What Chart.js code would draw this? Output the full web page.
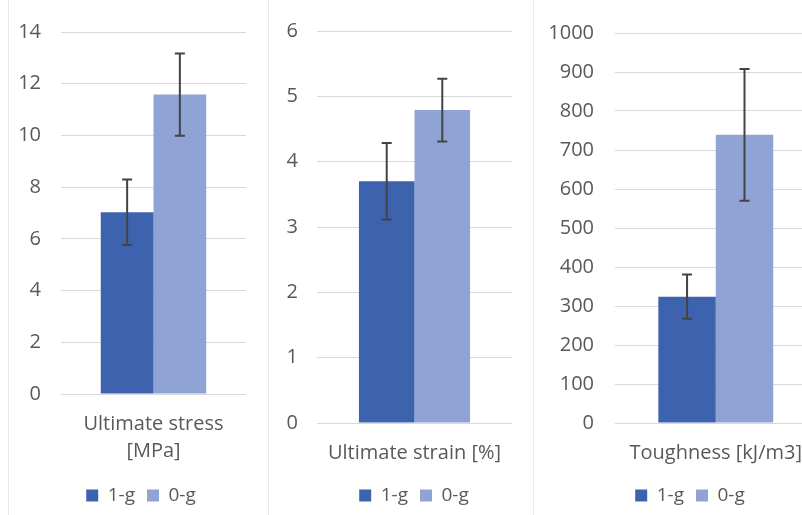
<!DOCTYPE html>
<html>
<head>
<meta charset="utf-8">
<script src="https://cdn.jsdelivr.net/npm/chart.js@4"></script>
<style>
  html, body { margin: 0; padding: 0; background: #ffffff; overflow: hidden; }
  #row { position: relative; width: 802px; height: 515px; overflow: hidden; background: #ffffff; }
  .panel { position: absolute; top: 0; }
  .panel canvas { display: block; }
  .sep { position: absolute; top: 0; width: 1px; height: 515px; background: #e8e8e8; }
</style>
</head>
<body>
<div id="row">
  <div class="sep" style="left:8px"></div>
  <div class="sep" style="left:268px"></div>
  <div class="sep" style="left:533px"></div>
  <div class="panel" style="left:0px"><canvas id="stress" width="268" height="515"></canvas></div>
  <div class="panel" style="left:269px"><canvas id="strain" width="264" height="515"></canvas></div>
  <div class="panel" style="left:534px"><canvas id="tough" width="286" height="515"></canvas></div>
</div>
<script>
// Groups (legend entries) and their fill colours
const seriesNames = ['1-g', '0-g'];
const seriesColors = ['#3d63ae', '#8fa3d4'];

// Ultimate stress [MPa]: mean and standard deviation per group
const stressCategory = ['Ultimate stress', '[MPa]'];
const stressMeans = [7.03, 11.58];
const stressErrors = [1.27, 1.59];
const stressAxis = [0, 14, 2];   // min, max, step

// Ultimate strain [%]
const strainCategory = 'Ultimate strain [%]';
const strainMeans = [3.70, 4.79];
const strainErrors = [0.585, 0.48];
const strainAxis = [0, 6, 1];

// Toughness [kJ/m3]
const toughCategory = 'Toughness [kJ/m3]';
const toughMeans = [324, 739];
const toughErrors = [57, 169];
const toughAxis = [0, 1000, 100];

const TEXT = '#595959';
const GRID = '#d9d9d9';
const FONT = "'Open Sans', 'Liberation Sans', sans-serif";
const FONT_SIZE = 20;

// Draws mean ± SD whiskers with caps on every bar, using the y scale
const errorBars = {
  id: 'errorBars',
  afterDatasetsDraw(chart, args, opts) {
    const ctx = chart.ctx;
    const y = chart.scales.y;
    chart.data.datasets.forEach((ds, i) => {
      const meta = chart.getDatasetMeta(i);
      meta.data.forEach((bar, j) => {
        const v = ds.data[j];
        const e = ds.errors[j];
        const top = y.getPixelForValue(v + e);
        const bot = y.getPixelForValue(v - e);
        ctx.save();
        ctx.strokeStyle = opts.color;
        ctx.lineWidth = opts.width;
        ctx.beginPath();
        ctx.moveTo(bar.x, top); ctx.lineTo(bar.x, bot);
        ctx.moveTo(bar.x - opts.cap, top); ctx.lineTo(bar.x + opts.cap, top);
        ctx.moveTo(bar.x - opts.cap, bot); ctx.lineTo(bar.x + opts.cap, bot);
        ctx.stroke();
        ctx.restore();
      });
    });
  }
};

// Re-centres the legend row on a chosen x position
const legendCenter = {
  id: 'legendCenter',
  afterLayout(chart, args, opts) {
    const l = chart.legend;
    if (!l || opts.x == null) return;
    const w = l.right - l.left;
    l.left = opts.x - w / 2;
    l.right = opts.x + w / 2;
  }
};

function makeChart(id, category, means, errors, axis, geo) {
  const datasets = seriesNames.map((name, i) => ({
    label: name,
    data: [means[i]],
    errors: [errors[i]],
    backgroundColor: seriesColors[i],
    borderWidth: 0,
    barPercentage: 1.0,
    categoryPercentage: 0.57
  }));
  return new Chart(document.getElementById(id), {
    type: 'bar',
    data: { labels: [category], datasets },
    plugins: [errorBars, legendCenter],
    options: {
      responsive: false,
      animation: false,
      devicePixelRatio: 1,
      layout: { padding: { top: geo.top, right: geo.right, bottom: 0, left: 0 } },
      plugins: {
        tooltip: { enabled: false },
        errorBars: { color: '#434343', width: 2, cap: 5 },
        legendCenter: { x: geo.legendX },
        legend: {
          position: 'bottom',
          labels: {
            boxWidth: 12,
            boxHeight: 12,
            padding: 12,
            color: TEXT,
            font: { family: FONT, size: 19 }
          }
        }
      },
      scales: {
        x: {
          grid: { display: false, drawTicks: false },
          border: { display: false },
          ticks: {
            color: TEXT,
            padding: 17,
            maxRotation: 0,
            autoSkip: false,
            font: { family: FONT, size: FONT_SIZE, lineHeight: 1.35 }
          },
          afterFit(scale) { scale.height = geo.xHeight; }
        },
        y: {
          min: axis[0],
          max: axis[1],
          grid: { color: GRID, lineWidth: 1, drawTicks: false },
          border: { display: false },
          ticks: {
            stepSize: axis[2],
            color: TEXT,
            padding: geo.tickPad,
            font: { family: FONT, size: FONT_SIZE },
            callback: (v) => String(v)
          },
          afterFit(scale) { scale.width = geo.yWidth; }
        }
      }
    }
  });
}

makeChart('stress', stressCategory, stressMeans, stressErrors, stressAxis,
  { top: 28, right: 22, yWidth: 61, tickPad: 20, xHeight: 80, legendX: 141 });
makeChart('strain', strainCategory, strainMeans, strainErrors, strainAxis,
  { top: 30, right: 21, yWidth: 48, tickPad: 19, xHeight: 51, legendX: 145 });
makeChart('tough', toughCategory, toughMeans, toughErrors, toughAxis,
  { top: 30, right: 2, yWidth: 81, tickPad: 21, xHeight: 51, legendX: 156 });
</script>
</body>
</html>
